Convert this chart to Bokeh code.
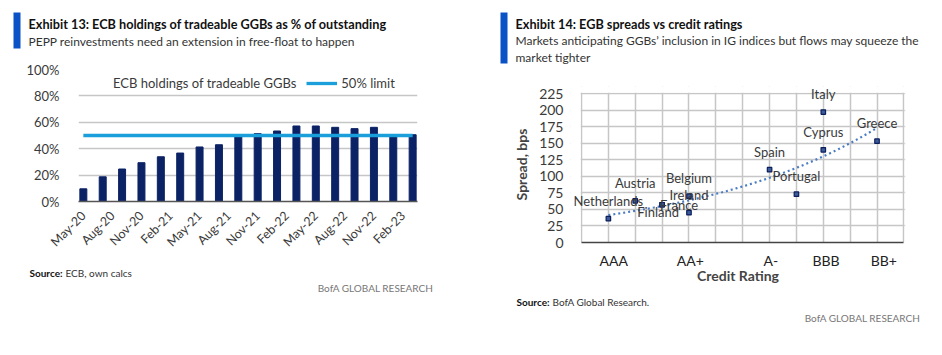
import math
import numpy as np
from bokeh.plotting import figure
from bokeh.layouts import row, column
from bokeh.models import (ColumnDataSource, FixedTicker, Legend, LegendItem, Label,
                          LabelSet, BoxAnnotation, Range1d)
from bokeh.core.properties import value
from bokeh.embed import file_html
from bokeh.resources import INLINE

FONT = "Lato"
NAVY = "#0b2265"
LIGHT_BLUE = "#1a9fdb"
ACCENT = "#0a52c6"
GRID = "#c6c6c6"
TXT = "#3a3a3a"

# ---------------- Exhibit 13 data ----------------
bar_months = ["May-20", "Jul-20", "Sep-20", "Nov-20", "Jan-21", "Mar-21", "May-21", "Jul-21",
              "Sep-21", "Nov-21", "Jan-22", "Mar-22", "May-22", "Jul-22", "Sep-22", "Nov-22",
              "Jan-23", "Mar-23"]
holdings_pct = [9.6, 18.7, 24.6, 29.4, 33.9, 36.7, 41.3, 43.0, 48.9, 51.4, 53.4, 57.2,
                57.2, 56.2, 55.2, 56.2, 49.1, 50.6]
limit_pct = [50] * len(bar_months)
tick_months = ["May-20", "Aug-20", "Nov-20", "Feb-21", "May-21", "Aug-21", "Nov-21",
               "Feb-22", "May-22", "Aug-22", "Nov-22", "Feb-23"]
pct_ticks = [0, 20, 40, 60, 80, 100]

# ---------------- Exhibit 14 data ----------------
countries = ["Netherlands", "Austria", "Finland", "France", "Belgium", "Ireland",
             "Spain", "Portugal", "Italy", "Cyprus", "Greece"]
rating_notch = [1, 2, 3, 3, 4, 4, 7, 8, 9, 9, 11]
spread_bps = [36, 63, 57, 57, 70, 45, 110, 73, 197, 140, 153]
rating_labels = ["AAA", "AA+", "A-", "BBB", "BB+"]
rating_label_pos = [1.2, 4.05, 7.05, 9.1, 11.25]
spread_ticks = list(range(0, 226, 25))
notch_grid = list(range(0, 13))

MON = {m: i + 1 for i, m in enumerate(["Jan", "Feb", "Mar", "Apr", "May", "Jun", "Jul",
                                       "Aug", "Sep", "Oct", "Nov", "Dec"])}


def month_index(s):
    m, y = s.split("-")
    return (2000 + int(y) - 2020) * 12 + MON[m] - 5


def text_panel(h):
    t = figure(width=471, height=h, output_backend="svg", toolbar_location=None,
               x_range=Range1d(0, 471), y_range=Range1d(h, 0),
               x_axis_type=None, y_axis_type=None, min_border=0,
               min_border_left=0, min_border_right=0, min_border_top=0, min_border_bottom=0)
    t.outline_line_color = None
    t.grid.visible = False
    return t


def put(p, x, y, text, size="13px", bold=False, color="#222222", align="left"):
    p.add_layout(Label(x=x, y=y, text=text, text_font=FONT, text_font_size=size,
                       text_font_style="bold" if bold else "normal",
                       text_color=color, text_align=align, text_baseline="middle"))


def accent_bar(p, left, right, top, bottom):
    p.add_layout(BoxAnnotation(left=left, right=right, top=top, bottom=bottom,
                               fill_color=ACCENT, fill_alpha=1, line_color=None))


# ================= Left column =================
h1 = text_panel(60)
accent_bar(h1, 13, 20, 12, 48)
put(h1, 28, 23.5, "Exhibit 13: ECB holdings of tradeable GGBs as % of outstanding",
    size="12.7px", bold=True, color="#111111")
put(h1, 28, 40.5, "PEPP reinvestments need an extension in free-float to happen",
    size="12px", color="#333333")

p1 = figure(width=471, height=202, output_backend="svg", toolbar_location=None,
            x_range=Range1d(-0.5, 34.5), y_range=Range1d(0, 100),
            min_border_left=78, min_border_right=54, min_border_top=9, min_border_bottom=61)
p1.outline_line_color = None

src1 = ColumnDataSource(dict(x=[month_index(m) for m in bar_months],
                             top=holdings_pct, limit=limit_pct))
p1.vbar(x="x", top="top", width=0.72, source=src1, fill_color=NAVY, line_color=NAVY)
lim = p1.line(x="x", y="limit", source=src1, line_color=LIGHT_BLUE, line_width=3.3)
bar_key = p1.line(x=[], y=[], line_color=NAVY, line_width=6)  # legend key for the bars

p1.yaxis.ticker = FixedTicker(ticks=pct_ticks)
p1.yaxis.major_label_overrides = {v: f"{v}%" for v in pct_ticks}
p1.yaxis.axis_line_color = None
p1.yaxis.major_tick_line_color = None
p1.yaxis.minor_tick_line_color = None
p1.yaxis.major_label_standoff = 13
p1.yaxis.major_label_text_font = FONT
p1.yaxis.major_label_text_font_size = "13px"
p1.yaxis.major_label_text_color = TXT

tick_x = [month_index(m) for m in tick_months]
p1.xaxis.ticker = FixedTicker(ticks=tick_x)
p1.xaxis.major_label_overrides = {t: lab for t, lab in zip(tick_x, tick_months)}
p1.xaxis.major_label_orientation = math.pi / 4
p1.xaxis.axis_line_color = "#555555"
p1.xaxis.axis_line_width = 1.5
p1.xaxis.major_tick_line_color = None
p1.xaxis.minor_tick_line_color = None
p1.xaxis.major_label_standoff = 6
p1.xaxis.major_label_text_font = FONT
p1.xaxis.major_label_text_font_size = "12.5px"
p1.xaxis.major_label_text_color = TXT

p1.xgrid.visible = False
p1.ygrid.ticker = FixedTicker(ticks=pct_ticks)
p1.ygrid.grid_line_color = GRID
p1.ygrid.grid_line_width = 1.3

legend = Legend(items=[LegendItem(label="ECB holdings of tradeable GGBs", renderers=[bar_key]),
                       LegendItem(label="50% limit", renderers=[lim])],
                orientation="horizontal", location=(0, 110),
                glyph_width=31, glyph_height=16, label_height=16, label_standoff=4,
                spacing=10, padding=0, margin=0,
                border_line_color=None, background_fill_alpha=0,
                label_text_font=FONT, label_text_font_size="13px",
                label_text_color=TXT)
p1.add_layout(legend)

f1 = text_panel(93)
put(f1, 29, 10, "Source:", size="10px", bold=True, color="#111111")
put(f1, 65, 10, "ECB, own calcs", size="10px", color="#333333")
put(f1, 433, 25, "BofA GLOBAL RESEARCH", size="10px", color="#777777", align="right")

# ================= Right column =================
h2 = text_panel(70)
accent_bar(h2, 29, 36, 12, 63)
put(h2, 44, 23, "Exhibit 14: EGB spreads vs credit ratings", size="12.7px", bold=True,
    color="#111111")
put(h2, 44, 40, "Markets anticipating GGBs\u2019 inclusion in IG indices but flows may squeeze the",
    size="12px", color="#333333")
put(h2, 44, 57, "market tighter", size="12px", color="#333333")

p2 = figure(width=471, height=224, output_backend="svg", toolbar_location=None,
            x_range=Range1d(-0.41, 12.06), y_range=Range1d(0, 235.6),
            min_border_left=99, min_border_right=37, min_border_top=16, min_border_bottom=52)
p2.outline_line_color = None

p2.xgrid.ticker = FixedTicker(ticks=notch_grid)
p2.ygrid.ticker = FixedTicker(ticks=spread_ticks)
for g in (p2.xgrid, p2.ygrid):
    g.grid_line_color = GRID
    g.grid_line_width = 1.5

# white masks so the grid box stops at 0..12 x 0..225
for kw in (dict(right=-0.03), dict(left=12.03), dict(bottom=226.2)):
    p2.add_layout(BoxAnnotation(fill_color="white", fill_alpha=1, line_color=None, **kw))

# exponential trendline fitted to the data
xs = np.array(rating_notch, dtype=float)
ys = np.array(spread_bps, dtype=float)
b, ln_a = np.polyfit(xs, np.log(ys), 1)
x_fit = np.linspace(xs.min(), xs.max(), 60)
y_fit = np.exp(ln_a + b * x_fit)
p2.line(x_fit, y_fit, line_color="#4a7cc4", line_width=2.2, line_dash="2 3")

src2 = ColumnDataSource(dict(x=rating_notch, y=spread_bps, name=countries))
p2.scatter(x="x", y="y", source=src2, marker="square", size=4.5,
           fill_color="#3d5a99", line_color="#0b1f5c", line_width=1.2)

label_dx = {c: 0 for c in countries}
label_dy = {c: 18 for c in countries}
label_dx["France"], label_dy["France"] = 17, 0
label_dx["Finland"], label_dy["Finland"] = -4, -7
src2.data["dx"] = [label_dx[c] for c in countries]
src2.data["dy"] = [label_dy[c] for c in countries]
p2.add_layout(LabelSet(x="x", y="y", text="name", source=src2, x_offset="dx",
                       y_offset="dy", text_align="center", text_baseline="middle",
                       text_font=value(FONT), text_font_size="13px", text_color=TXT))

p2.xaxis.ticker = FixedTicker(ticks=rating_label_pos)
p2.xaxis.major_label_overrides = {t: lab for t, lab in zip(rating_label_pos, rating_labels)}
p2.xaxis.bounds = (0, 12)
p2.xaxis.axis_line_color = "#444444"
p2.xaxis.axis_line_width = 1.5
p2.xaxis.major_tick_line_color = None
p2.xaxis.minor_tick_line_color = None
p2.xaxis.major_label_standoff = 3
p2.xaxis.major_label_text_font = FONT
p2.xaxis.major_label_text_font_size = "14px"
p2.xaxis.major_label_text_color = "#222222"
p2.xaxis.axis_label = "Credit Rating"
p2.xaxis.axis_label_text_font = FONT
p2.xaxis.axis_label_text_font_style = "bold"
p2.xaxis.axis_label_text_font_size = "14px"
p2.xaxis.axis_label_standoff = -5

p2.yaxis.ticker = FixedTicker(ticks=spread_ticks)
p2.yaxis.axis_line_color = None
p2.yaxis.major_tick_line_color = None
p2.yaxis.minor_tick_line_color = None
p2.yaxis.major_label_standoff = 1
p2.yaxis.major_label_text_font = FONT
p2.yaxis.major_label_text_font_size = "14px"
p2.yaxis.major_label_text_color = TXT
p2.yaxis.axis_label = "Spread, bps"
p2.yaxis.axis_label_text_font = FONT
p2.yaxis.axis_label_text_font_style = "bold"
p2.yaxis.axis_label_text_font_size = "14px"
p2.yaxis.axis_label_standoff = 6

f2 = text_panel(61)
put(f2, 45, 7, "Source:", size="10px", bold=True, color="#111111")
put(f2, 81, 7, "BofA Global Research.", size="10px", color="#333333")
put(f2, 449, 23, "BofA GLOBAL RESEARCH", size="10px", color="#777777", align="right")

layout = row(column(row(h1), row(p1), row(f1)), column(row(h2), row(p2), row(f2)))
open("out.html", "w").write(file_html(layout, INLINE))
